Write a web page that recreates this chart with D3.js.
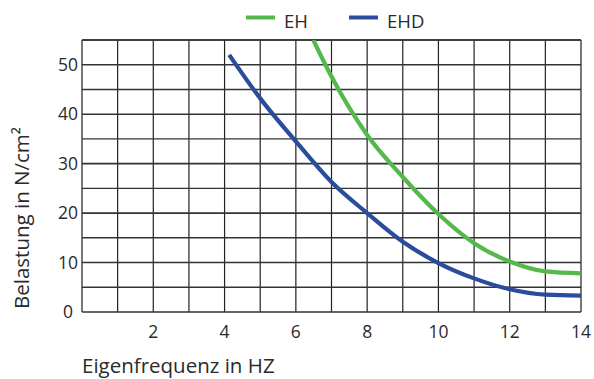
<!DOCTYPE html>
<html>
<head>
<meta charset="utf-8">
<script src="https://cdn.jsdelivr.net/npm/d3@7"></script>
<style>
  body { margin: 0; background: #fff; }
  text { font-family: "Open Sans", sans-serif; fill: #2a2a2a; }
</style>
</head>
<body>
<svg id="chart" width="594" height="379"></svg>
<script>
// Werte
const xTicks = [2, 4, 6, 8, 10, 12, 14];
const yTicks = [0, 10, 20, 30, 40, 50];
const ehX = [6.49, 7, 8, 9, 10, 11, 12, 13, 14];
const ehY = [55, 47.6, 35.8, 27.3, 19.8, 13.9, 10.2, 8.2, 7.8];
const ehdX = [4.13, 5, 6, 7, 8, 9, 10, 11, 12, 13, 14];
const ehdY = [52, 43.2, 34.5, 26.3, 20, 14.2, 9.9, 6.8, 4.6, 3.5, 3.3];
const seriesNames = ["EH", "EHD"];
const seriesColors = ["#55b84a", "#2a4c9c"];

const svg = d3.select("#chart");
const padL = 82, padR = 581, padT = 40, padB = 312;

const x = d3.scaleLinear().domain([0, 14]).range([padL, padR]);
const y = d3.scaleLinear().domain([0, 55]).range([padB, padT]);

// Gitter
svg.append("g")
  .selectAll("line")
  .data(d3.range(0, 15))
  .join("line")
  .attr("x1", d => x(d)).attr("x2", d => x(d))
  .attr("y1", padT).attr("y2", padB)
  .attr("stroke", d => (d === 0 || d === 14) ? "#777" : "#222")
  .attr("stroke-width", d => (d === 0 || d === 14) ? 2 : 1.2);

svg.append("g")
  .selectAll("line")
  .data(d3.range(0, 60, 5))
  .join("line")
  .attr("x1", padL).attr("x2", padR)
  .attr("y1", d => y(d)).attr("y2", d => y(d))
  .attr("stroke", "#333")
  .attr("stroke-width", d => d % 10 === 0 ? 1.6 : 1.4);

svg.append("line")
  .attr("x1", padL).attr("x2", padR)
  .attr("y1", padT).attr("y2", padT)
  .attr("stroke", "#333").attr("stroke-width", 1.6);

// Achsenbeschriftung
svg.append("g")
  .selectAll("text")
  .data(xTicks)
  .join("text")
  .attr("x", d => x(d))
  .attr("y", 338)
  .attr("text-anchor", "middle")
  .style("font-size", "17.5px")
  .text(d => d);

svg.append("g")
  .selectAll("text")
  .data(yTicks)
  .join("text")
  .attr("x", 68)
  .attr("y", d => y(d))
  .attr("dy", "0.36em")
  .attr("text-anchor", "middle")
  .style("font-size", "17.5px")
  .text(d => d);

svg.append("text")
  .attr("x", 82)
  .attr("y", 373)
  .style("font-size", "20.5px")
  .text("Eigenfrequenz in HZ");

svg.append("text")
  .attr("transform", "translate(29,218) rotate(-90)")
  .attr("text-anchor", "middle")
  .style("font-size", "20.5px")
  .text("Belastung in N/cm²");

// Kurven
svg.append("clipPath").attr("id", "plot")
  .append("rect")
  .attr("x", padL).attr("y", padT)
  .attr("width", padR - padL).attr("height", padB - padT);

const line = d3.line()
  .x(d => x(d[0]))
  .y(d => y(d[1]))
  .curve(d3.curveMonotoneX);

const series = [
  ehX.map((v, i) => [v, ehY[i]]),
  ehdX.map((v, i) => [v, ehdY[i]])
];

series.forEach((pts, i) => {
  svg.append("path")
    .attr("clip-path", "url(#plot)")
    .attr("fill", "none")
    .attr("stroke", seriesColors[i])
    .attr("stroke-width", 4.2)
    .attr("d", line(pts));
});

// Legende
const legendX = [246, 349];
seriesNames.forEach((name, i) => {
  svg.append("line")
    .attr("x1", legendX[i]).attr("x2", legendX[i] + 29)
    .attr("y1", 17.5).attr("y2", 17.5)
    .attr("stroke", seriesColors[i])
    .attr("stroke-width", 4);
  svg.append("text")
    .attr("x", legendX[i] + 38)
    .attr("y", 28)
    .style("font-size", "18.5px")
    .text(name);
});
</script>
</body>
</html>
